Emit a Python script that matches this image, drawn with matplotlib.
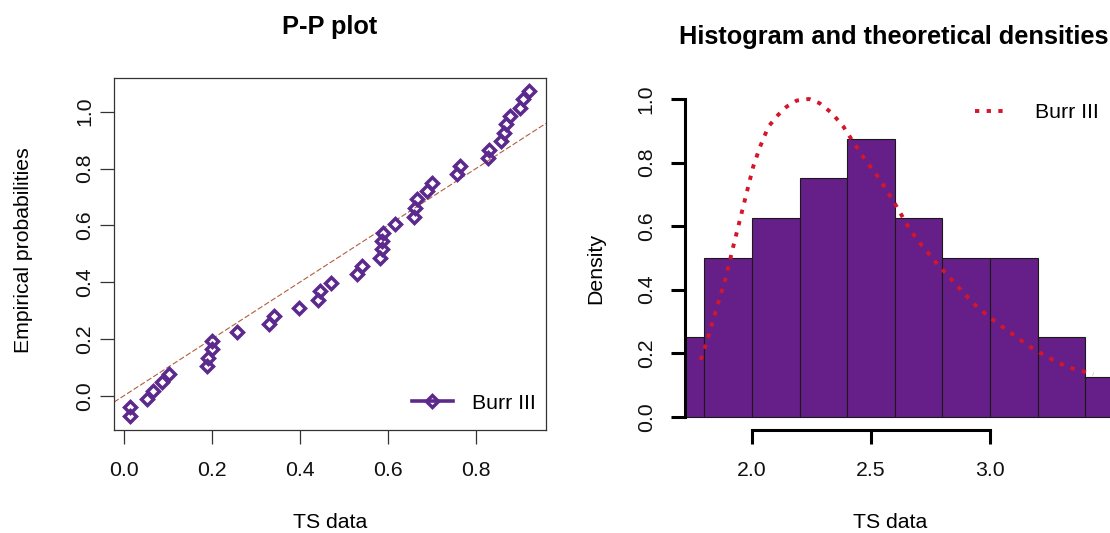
import matplotlib
matplotlib.use("Agg")
import matplotlib.pyplot as plt
from matplotlib.lines import Line2D

plt.rcParams['font.family'] = ['Liberation Sans', 'DejaVu Sans']

# ---------------- data ----------------
# P-P plot (theoretical probabilities vs empirical probabilities)
pp_theoretical = [0.013, 0.013, 0.053, 0.067, 0.087, 0.102, 0.188, 0.192, 0.201, 0.201,
                  0.2575, 0.330, 0.341, 0.398, 0.442, 0.445, 0.470, 0.529, 0.540, 0.582,
                  0.586, 0.587, 0.589, 0.616, 0.659, 0.661, 0.665, 0.688, 0.699, 0.756,
                  0.764, 0.8265, 0.830, 0.857, 0.864, 0.868, 0.877, 0.900, 0.9075, 0.921]
pp_empirical = [-0.071, -0.041, -0.012, 0.017, 0.047, 0.076, 0.105, 0.134, 0.163, 0.194,
                0.223, 0.251, 0.281, 0.310, 0.338, 0.369, 0.398, 0.427, 0.457, 0.486,
                0.515, 0.545, 0.574, 0.604, 0.631, 0.660, 0.691, 0.721, 0.748, 0.779,
                0.809, 0.836, 0.866, 0.897, 0.926, 0.955, 0.986, 1.014, 1.043, 1.073]
pp_xticks = [0.0, 0.2, 0.4, 0.6, 0.8]
pp_yticks = [0.0, 0.2, 0.4, 0.6, 0.8, 1.0]

# Histogram
bin_edges = [1.6, 1.8, 2.0, 2.2, 2.4, 2.6, 2.8, 3.0, 3.2, 3.4, 3.6]
densities = [0.25, 0.5, 0.625, 0.75, 0.875, 0.625, 0.5, 0.5, 0.25, 0.125]
hist_xticks = [2.0, 2.5, 3.0]
hist_yticks = [0.0, 0.2, 0.4, 0.6, 0.8, 1.0]

# Burr III theoretical density
dens_x = [1.784, 1.803, 1.837, 1.866, 1.887, 1.908, 1.921, 1.942, 1.963, 1.984,
          2.005, 2.034, 2.069, 2.110, 2.146, 2.188, 2.240, 2.283, 2.335, 2.384,
          2.419, 2.475, 2.538, 2.608, 2.664, 2.706, 2.776, 2.846, 2.930, 2.986,
          3.070, 3.168, 3.238, 3.322, 3.434]
dens_y = [0.179, 0.220, 0.305, 0.378, 0.430, 0.494, 0.535, 0.598, 0.661, 0.724,
          0.787, 0.850, 0.913, 0.950, 0.976, 0.995, 1.000, 0.987, 0.956, 0.913,
          0.872, 0.809, 0.746, 0.661, 0.588, 0.546, 0.483, 0.425, 0.357, 0.320,
          0.273, 0.220, 0.189, 0.157, 0.134]

series_name = "Burr III"

# ---------------- style ----------------
W, H = 1110, 533
purple_pts = "#5b2a8c"
purple_bar = "#661f88"
red_curve = "#d3162b"
ref_color = "#b0603e"
FS = 15.3
DOTS = (0, (1.1, 1.9))
DOT_LW = 2.8

fig = plt.figure(figsize=(W / 100, H / 100), dpi=100)

def fx(px):
    return px / W

def fy(py):
    return 1 - py / H

# ---------------- left: P-P plot ----------------
axL = fig.add_axes([fx(114), fy(429.5), fx(546 - 114), (429.5 - 78) / H])
axL.plot(pp_theoretical, pp_empirical, linestyle="none", marker="D",
         markersize=6.5, markeredgewidth=2.5, markerfacecolor="none",
         markeredgecolor=purple_pts, zorder=3)
axL.axline((0, 0), slope=1, color=ref_color, lw=0.8, linestyle=(0, (5, 2)), zorder=2)
axL.set_xlim(-0.0227, 0.959)
axL.set_ylim(-0.119, 1.1187)
axL.set_xticks(pp_xticks)
axL.set_xticklabels([f"{v:.1f}" for v in pp_xticks])
axL.set_yticks(pp_yticks)
axL.set_yticklabels([f"{v:.1f}" for v in pp_yticks])
for sp in axL.spines.values():
    sp.set_color("#333333")
    sp.set_linewidth(0.9)
axL.tick_params(axis="both", direction="out", length=10, width=0.9, color="#333333",
                labelsize=FS, labelcolor="#111111")
axL.tick_params(axis="x", pad=12.5)
axL.tick_params(axis="y", pad=4, labelrotation=90)
for lbl in axL.get_yticklabels():
    lbl.set_va("center")

leg_handle = Line2D([], [], color=purple_pts, lw=2.6, marker="D", markersize=6.5,
                    markeredgewidth=2.5, markerfacecolor="none", markeredgecolor=purple_pts)
axL.legend([leg_handle], [series_name], loc="center right",
           bbox_to_anchor=(fx(536), fy(403.3)), bbox_transform=fig.transFigure,
           frameon=False, fontsize=FS, handlelength=1.95, handletextpad=0.9,
           borderpad=0, borderaxespad=0)

fig.text(fx(330), fy(34), "P-P plot", ha="center", va="baseline",
         fontsize=18.3, fontweight="bold")
fig.text(fx(330), fy(522), "TS data", ha="center", va="center", fontsize=FS)
fig.text(fx(24), fy(250), "Empirical probabilities", ha="center", va="center",
         rotation=90, fontsize=FS)

# ---------------- right: histogram ----------------
axR = fig.add_axes([fx(685), fy(429.5), fx(W - 685), (429.5 - 78) / H])
widths = [bin_edges[i + 1] - bin_edges[i] for i in range(len(densities))]
axR.bar(bin_edges[:-1], densities, width=widths, align="edge", color=purple_bar,
        edgecolor="#1a1a1a", linewidth=0.8, zorder=1)
axR.plot(dens_x, dens_y, color=red_curve, lw=DOT_LW, linestyle=DOTS,
         dash_capstyle="butt", zorder=3)
axR.set_xlim(1.7185, 3.5042)
axR.set_ylim(-0.0403, 1.066)
axR.set_xticks(hist_xticks)
axR.set_xticklabels([f"{v:.1f}" for v in hist_xticks])
axR.set_yticks(hist_yticks)
axR.set_yticklabels([f"{v:.1f}" for v in hist_yticks])
axR.spines["top"].set_visible(False)
axR.spines["right"].set_visible(False)
axR.spines["left"].set_bounds(0.0, 1.0)
axR.spines["bottom"].set_bounds(2.0, 3.0)
for s in ("left", "bottom"):
    axR.spines[s].set_linewidth(2.2)
    axR.spines[s].set_color("black")
axR.tick_params(axis="both", direction="out", length=10, width=2.2, color="black",
                labelsize=FS, labelcolor="#111111")
axR.tick_params(axis="x", pad=12.5)
axR.tick_params(axis="y", pad=11, labelrotation=90)
for lbl in axR.get_yticklabels():
    lbl.set_va("center")

leg_handle2 = Line2D([], [], color=red_curve, lw=DOT_LW, linestyle=DOTS,
                     dash_capstyle="butt")
axR.legend([leg_handle2], [series_name], loc="center right",
           bbox_to_anchor=(fx(1099), fy(113)), bbox_transform=fig.transFigure,
           frameon=False, fontsize=FS, handlelength=1.6, handletextpad=1.25,
           borderpad=0, borderaxespad=0)

fig.text(fx(894), fy(44), "Histogram and theoretical densities", ha="center",
         va="baseline", fontsize=18.3, fontweight="bold")
fig.text(fx(890), fy(522), "TS data", ha="center", va="center", fontsize=FS)
fig.text(fx(596), fy(268), "Density", ha="center", va="center", rotation=90,
         fontsize=FS)

fig.savefig("out.png", dpi=100)
